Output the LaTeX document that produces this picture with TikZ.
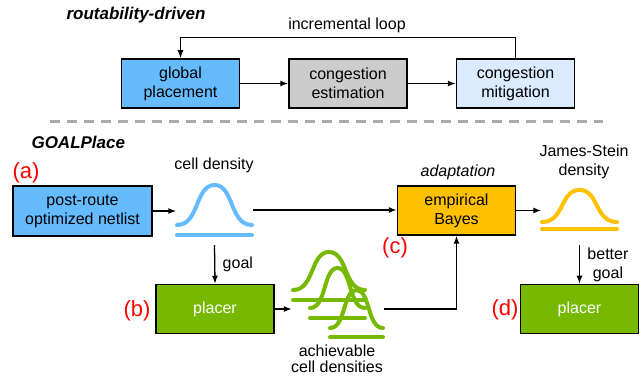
\documentclass[tikz,border=0pt]{standalone}
\usepackage{fontspec}
\setmainfont{Liberation Sans}
\usetikzlibrary{arrows.meta, positioning}
\definecolor{skyblue}{RGB}{102,187,255}
\definecolor{paleblue}{RGB}{218,234,255}
\definecolor{midgray}{RGB}{204,204,204}
\definecolor{leafgreen}{RGB}{118,185,0}
\definecolor{amber}{RGB}{255,192,0}
\definecolor{dashgray}{RGB}{170,170,170}
\definecolor{tagred}{RGB}{255,0,0}

% bell: left base x, y, width, height, gap to base line, colour
\newcommand{\bellcurve}[6]{%
  \draw[line width=4pt, line cap=round, #6] (#1,#2)
    .. controls +(0.3*#3,0) and +(-0.26*#3,0) .. ++(0.5*#3,-#4)
    .. controls +(0.26*#3,0) and +(-0.3*#3,0) .. ++(0.5*#3,#4);
  \draw[line width=4pt, line cap=round, #6] (#1,#2+#5) -- ++(#3,0);
}

\tikzset{
  box/.style={draw, line width=1.5pt, minimum width=118pt, minimum height=49pt,
    align=center, inner sep=2pt, font=\fontsize{16}{19}\selectfont},
  txt/.style={align=center, font=\fontsize{16}{19}\selectfont},
  heading/.style={anchor=west, font=\fontsize{17}{20}\selectfont\bfseries\itshape},
  letter/.style={text=tagred, font=\fontsize{22}{24}\selectfont},
  curvebox/.style={inner sep=0pt},
  arr/.style={line width=1.3pt, -{Latex[length=8pt, width=6pt]}}
}

\begin{document}
\begin{tikzpicture}[x=1pt, y=-1pt]
  \useasboundingbox (0,0) rectangle (641,377);

  % routability-driven flow
  \node[heading] (rtitle) at (63,15) {routability-driven};
  \node[box, fill=skyblue] (gp) at (180.5,83.5) {global\\placement};
  \node[box, fill=midgray] (ce) at (348,83.5) {congestion\\estimation};
  \node[box, fill=paleblue] (cm) at (515.5,83.5) {congestion\\mitigation};
  \draw[arr] (gp) -- (ce);
  \draw[arr] (ce) -- (cm);
  \draw[arr] (cm.north) -- ++(0,-21) -| (gp.north);
  \node[txt] (looptxt) at (347,25) {incremental loop};

  \draw[dashgray, line width=3pt, dash pattern=on 10pt off 7pt] (50,122) -- (603,122);

  % GOALPlace flow
  \node[heading] (gtitle) at (28,142) {GOALPlace};
  \node[letter] (taga) at (26,173) {(a)};
  \node[box, fill=skyblue, minimum width=139pt, minimum height=50pt] (net) at (82.5,211) {post-route\\optimized netlist};

  \node[curvebox, minimum width=76pt, minimum height=52pt] (cd) at (214.5,210) {};
  \bellcurve{177}{225}{75}{40}{10}{skyblue}
  \node[txt] (cdtxt) at (214,165) {cell density};
  \draw[arr] (net.east) -- (net.east -| cd.west);

  \node[box, fill=amber] (eb) at (456.5,210.5) {empirical\\Bayes};
  \node[txt, font=\fontsize{16}{19}\selectfont\itshape] (adapt) at (458,172) {adaptation};
  \node[letter] (tagc) at (395,248) {(c)};
  \draw[arr] (cd.east) -- (cd.east -| eb.west);

  \node[curvebox, minimum width=76pt, minimum height=44pt] (js) at (579.5,210) {};
  \bellcurve{542}{222}{75}{32}{7}{amber}
  \node[txt] (jstxt) at (584,162) {James-Stein\\density};
  \draw[arr] (eb.east) -- (eb.east -| js.west);

  \node[box, fill=leafgreen, text=white] (pb) at (215,309) {placer};
  \node[letter] (tagb) at (137,311) {(b)};
  \draw[arr] ([yshift=-9pt]cd.south) -- (pb.north) node[midway, right, txt, xshift=4pt] {goal};

  \node[curvebox, minimum width=92pt, minimum height=90pt] (ach) at (338,293) {};
  \bellcurve{293}{290}{72}{38}{10}{leafgreen}
  \bellcurve{310}{308}{55}{40}{10}{leafgreen}
  \bellcurve{330}{328}{53}{38}{9}{leafgreen}
  \node[txt, font=\fontsize{16}{16}\selectfont] (achtxt) at (337,359) {achievable\\cell densities};
  \draw[arr] (pb.east) -- (pb.east -| ach.west);
  \draw[arr] (pb.east -| ach.east) -| (eb.south);

  \node[box, fill=leafgreen, text=white] (pd) at (579.5,309) {placer};
  \node[letter] (tagd) at (505,310) {(d)};
  \draw[arr] ([yshift=-13pt]js.south) -- (pd.north) node[midway, right, txt, xshift=4pt] {better\\goal};
\end{tikzpicture}
\end{document}
